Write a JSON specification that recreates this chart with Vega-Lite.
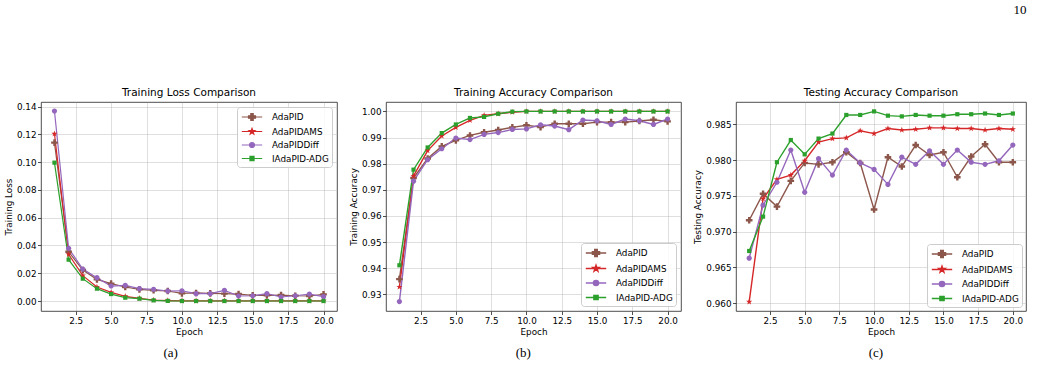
{
  "$schema": "https://vega.github.io/schema/vega-lite/v6.json",
  "background": "white",
  "padding": {"left": 4, "top": 4, "right": 5, "bottom": 4},
  "title": {"text": "10", "anchor": "end", "orient": "top", "font": "Liberation Serif", "fontSize": 13, "fontWeight": "normal", "offset": 70, "frame": "bounds", "color": "#000"},
  "datasets": {
    "loss": [
      {"epoch": 1, "AdaPID": 0.1141, "AdaPIDAMS": 0.1205, "AdaPIDDiff": 0.1369, "IAdaPID-ADG": 0.0997},
      {"epoch": 2, "AdaPID": 0.0355, "AdaPIDAMS": 0.0336, "AdaPIDDiff": 0.038, "IAdaPID-ADG": 0.0298},
      {"epoch": 3, "AdaPID": 0.0223, "AdaPIDAMS": 0.0183, "AdaPIDDiff": 0.023, "IAdaPID-ADG": 0.0161},
      {"epoch": 4, "AdaPID": 0.0156, "AdaPIDAMS": 0.0101, "AdaPIDDiff": 0.0168, "IAdaPID-ADG": 0.0089},
      {"epoch": 5, "AdaPID": 0.0125, "AdaPIDAMS": 0.0062, "AdaPIDDiff": 0.0108, "IAdaPID-ADG": 0.005},
      {"epoch": 6, "AdaPID": 0.0101, "AdaPIDAMS": 0.0034, "AdaPIDDiff": 0.0113, "IAdaPID-ADG": 0.0024},
      {"epoch": 7, "AdaPID": 0.0084, "AdaPIDAMS": 0.0019, "AdaPIDDiff": 0.0089, "IAdaPID-ADG": 0.0017},
      {"epoch": 8, "AdaPID": 0.0077, "AdaPIDAMS": 0.0007, "AdaPIDDiff": 0.0084, "IAdaPID-ADG": 0.0005},
      {"epoch": 9, "AdaPID": 0.0072, "AdaPIDAMS": 0.0003, "AdaPIDDiff": 0.0072, "IAdaPID-ADG": 0.0001},
      {"epoch": 10, "AdaPID": 0.0055, "AdaPIDAMS": 0.0001, "AdaPIDDiff": 0.0074, "IAdaPID-ADG": 0.0},
      {"epoch": 11, "AdaPID": 0.0058, "AdaPIDAMS": 0.0001, "AdaPIDDiff": 0.0053, "IAdaPID-ADG": 0.0},
      {"epoch": 12, "AdaPID": 0.0055, "AdaPIDAMS": 0.0001, "AdaPIDDiff": 0.0053, "IAdaPID-ADG": 0.0},
      {"epoch": 13, "AdaPID": 0.0053, "AdaPIDAMS": 0.0001, "AdaPIDDiff": 0.0077, "IAdaPID-ADG": 0.0},
      {"epoch": 14, "AdaPID": 0.005, "AdaPIDAMS": 0.0001, "AdaPIDDiff": 0.0036, "IAdaPID-ADG": 0.0},
      {"epoch": 15, "AdaPID": 0.0041, "AdaPIDAMS": 0.0001, "AdaPIDDiff": 0.0038, "IAdaPID-ADG": 0.0},
      {"epoch": 16, "AdaPID": 0.0041, "AdaPIDAMS": 0.0001, "AdaPIDDiff": 0.0053, "IAdaPID-ADG": 0.0},
      {"epoch": 17, "AdaPID": 0.0043, "AdaPIDAMS": 0.0001, "AdaPIDDiff": 0.0029, "IAdaPID-ADG": 0.0},
      {"epoch": 18, "AdaPID": 0.0038, "AdaPIDAMS": 0.0001, "AdaPIDDiff": 0.0038, "IAdaPID-ADG": 0.0},
      {"epoch": 19, "AdaPID": 0.0036, "AdaPIDAMS": 0.0001, "AdaPIDDiff": 0.005, "IAdaPID-ADG": 0.0},
      {"epoch": 20, "AdaPID": 0.0048, "AdaPIDAMS": 0.0001, "AdaPIDDiff": 0.0031, "IAdaPID-ADG": 0.0}
    ],
    "trainacc": [
      {"epoch": 1, "AdaPID": 0.9358, "AdaPIDAMS": 0.9328, "AdaPIDDiff": 0.9272, "IAdaPID-ADG": 0.9411},
      {"epoch": 2, "AdaPID": 0.9745, "AdaPIDAMS": 0.9753, "AdaPIDDiff": 0.9733, "IAdaPID-ADG": 0.9777},
      {"epoch": 3, "AdaPID": 0.982, "AdaPIDAMS": 0.985, "AdaPIDDiff": 0.9815, "IAdaPID-ADG": 0.9862},
      {"epoch": 4, "AdaPID": 0.9866, "AdaPIDAMS": 0.9906, "AdaPIDDiff": 0.9857, "IAdaPID-ADG": 0.9917},
      {"epoch": 5, "AdaPID": 0.9889, "AdaPIDAMS": 0.9939, "AdaPIDDiff": 0.9898, "IAdaPID-ADG": 0.995},
      {"epoch": 6, "AdaPID": 0.9908, "AdaPIDAMS": 0.9966, "AdaPIDDiff": 0.9892, "IAdaPID-ADG": 0.9975},
      {"epoch": 7, "AdaPID": 0.992, "AdaPIDAMS": 0.9985, "AdaPIDDiff": 0.9912, "IAdaPID-ADG": 0.9979},
      {"epoch": 8, "AdaPID": 0.9929, "AdaPIDAMS": 0.9991, "AdaPIDDiff": 0.9919, "IAdaPID-ADG": 0.9991},
      {"epoch": 9, "AdaPID": 0.9939, "AdaPIDAMS": 0.9997, "AdaPIDDiff": 0.9931, "IAdaPID-ADG": 0.9999},
      {"epoch": 10, "AdaPID": 0.9947, "AdaPIDAMS": 1.0, "AdaPIDDiff": 0.9933, "IAdaPID-ADG": 1.0},
      {"epoch": 11, "AdaPID": 0.994, "AdaPIDAMS": 1.0, "AdaPIDDiff": 0.9949, "IAdaPID-ADG": 1.0},
      {"epoch": 12, "AdaPID": 0.9953, "AdaPIDAMS": 1.0, "AdaPIDDiff": 0.9944, "IAdaPID-ADG": 1.0},
      {"epoch": 13, "AdaPID": 0.9953, "AdaPIDAMS": 1.0, "AdaPIDDiff": 0.993, "IAdaPID-ADG": 1.0},
      {"epoch": 14, "AdaPID": 0.9953, "AdaPIDAMS": 1.0, "AdaPIDDiff": 0.9967, "IAdaPID-ADG": 1.0},
      {"epoch": 15, "AdaPID": 0.9959, "AdaPIDAMS": 1.0, "AdaPIDDiff": 0.9964, "IAdaPID-ADG": 1.0},
      {"epoch": 16, "AdaPID": 0.9959, "AdaPIDAMS": 1.0, "AdaPIDDiff": 0.995, "IAdaPID-ADG": 1.0},
      {"epoch": 17, "AdaPID": 0.9959, "AdaPIDAMS": 1.0, "AdaPIDDiff": 0.9971, "IAdaPID-ADG": 1.0},
      {"epoch": 18, "AdaPID": 0.9963, "AdaPIDAMS": 1.0, "AdaPIDDiff": 0.9964, "IAdaPID-ADG": 1.0},
      {"epoch": 19, "AdaPID": 0.9968, "AdaPIDAMS": 1.0, "AdaPIDDiff": 0.995, "IAdaPID-ADG": 1.0},
      {"epoch": 20, "AdaPID": 0.9962, "AdaPIDAMS": 1.0, "AdaPIDDiff": 0.9971, "IAdaPID-ADG": 1.0}
    ],
    "testacc": [
      {"epoch": 1, "AdaPID": 0.9716, "AdaPIDAMS": 0.9602, "AdaPIDDiff": 0.9663, "IAdaPID-ADG": 0.9673},
      {"epoch": 2, "AdaPID": 0.9753, "AdaPIDAMS": 0.9746, "AdaPIDDiff": 0.9737, "IAdaPID-ADG": 0.9721},
      {"epoch": 3, "AdaPID": 0.9735, "AdaPIDAMS": 0.9773, "AdaPIDDiff": 0.9769, "IAdaPID-ADG": 0.9797},
      {"epoch": 4, "AdaPID": 0.9771, "AdaPIDAMS": 0.9779, "AdaPIDDiff": 0.9814, "IAdaPID-ADG": 0.9828},
      {"epoch": 5, "AdaPID": 0.9796, "AdaPIDAMS": 0.9799, "AdaPIDDiff": 0.9755, "IAdaPID-ADG": 0.9808},
      {"epoch": 6, "AdaPID": 0.9794, "AdaPIDAMS": 0.9825, "AdaPIDDiff": 0.9802, "IAdaPID-ADG": 0.983},
      {"epoch": 7, "AdaPID": 0.9797, "AdaPIDAMS": 0.983, "AdaPIDDiff": 0.9779, "IAdaPID-ADG": 0.9837},
      {"epoch": 8, "AdaPID": 0.9811, "AdaPIDAMS": 0.9831, "AdaPIDDiff": 0.9814, "IAdaPID-ADG": 0.9863},
      {"epoch": 9, "AdaPID": 0.9796, "AdaPIDAMS": 0.9841, "AdaPIDDiff": 0.9796, "IAdaPID-ADG": 0.9863},
      {"epoch": 10, "AdaPID": 0.9731, "AdaPIDAMS": 0.9837, "AdaPIDDiff": 0.9787, "IAdaPID-ADG": 0.9868},
      {"epoch": 11, "AdaPID": 0.9804, "AdaPIDAMS": 0.9844, "AdaPIDDiff": 0.9766, "IAdaPID-ADG": 0.9862},
      {"epoch": 12, "AdaPID": 0.9791, "AdaPIDAMS": 0.9842, "AdaPIDDiff": 0.9804, "IAdaPID-ADG": 0.9861},
      {"epoch": 13, "AdaPID": 0.9821, "AdaPIDAMS": 0.9843, "AdaPIDDiff": 0.9794, "IAdaPID-ADG": 0.9863},
      {"epoch": 14, "AdaPID": 0.9807, "AdaPIDAMS": 0.9845, "AdaPIDDiff": 0.9813, "IAdaPID-ADG": 0.9862},
      {"epoch": 15, "AdaPID": 0.9811, "AdaPIDAMS": 0.9845, "AdaPIDDiff": 0.9794, "IAdaPID-ADG": 0.9862},
      {"epoch": 16, "AdaPID": 0.9776, "AdaPIDAMS": 0.9844, "AdaPIDDiff": 0.9814, "IAdaPID-ADG": 0.9864},
      {"epoch": 17, "AdaPID": 0.9805, "AdaPIDAMS": 0.9844, "AdaPIDDiff": 0.9797, "IAdaPID-ADG": 0.9864},
      {"epoch": 18, "AdaPID": 0.9822, "AdaPIDAMS": 0.9842, "AdaPIDDiff": 0.9794, "IAdaPID-ADG": 0.9865},
      {"epoch": 19, "AdaPID": 0.9797, "AdaPIDAMS": 0.9844, "AdaPIDDiff": 0.9799, "IAdaPID-ADG": 0.9863},
      {"epoch": 20, "AdaPID": 0.9797, "AdaPIDAMS": 0.9843, "AdaPIDDiff": 0.9821, "IAdaPID-ADG": 0.9865}
    ]
  },
  "hconcat": [
    {
      "title": {"text": "(a)", "orient": "bottom", "anchor": "middle", "frame": "bounds", "font": "Liberation Serif", "fontSize": 13, "fontWeight": "normal", "offset": 10, "color": "#000"},
      "resolve": {"scale": {"color": "independent"}, "legend": {"color": "independent"}},
      "vconcat": [
        {
          "title": {"text": "Training Loss Comparison"},
          "width": 296,
          "height": 209,
          "data": {"name": "loss"},
          "transform": [{"fold": ["AdaPID", "AdaPIDAMS", "AdaPIDDiff", "IAdaPID-ADG"], "as": ["optimizer", "value"]}],
          "encoding": {
            "x": {"field": "epoch", "type": "quantitative", "scale": {"domain": [0.05, 20.95], "nice": false, "zero": false}, "axis": {"values": [2.5, 5, 7.5, 10, 12.5, 15, 17.5, 20], "format": ".1f", "title": "Epoch"}},
            "y": {"field": "value", "type": "quantitative", "scale": {"domain": [-0.0072, 0.1434], "nice": false, "zero": false}, "axis": {"values": [0, 0.02, 0.04, 0.06, 0.08, 0.1, 0.12, 0.14], "format": ".2f", "title": "Training Loss"}},
            "color": {"field": "optimizer", "type": "nominal", "scale": {"domain": ["AdaPID", "AdaPIDAMS", "AdaPIDDiff", "IAdaPID-ADG"], "range": ["#8c564b", "#d62728", "#9467bd", "#2ca02c"]},
              "legend": {"title": null, "orient": "top-right", "offset": 5,
                "encode": {"symbols": {"update": {
                  "shape": {"signal": "datum.value === 'AdaPID' ? 'M-1.7,0H1.7M-0.2,-0.58H0.2V-0.2H0.58V0.2H0.2V0.58H-0.2V0.2H-0.58V-0.2H-0.2Z' : datum.value === 'AdaPIDAMS' ? 'M-1.7,0H1.7M0,-0.5L0.118,-0.162L0.475,-0.155L0.19,0.062L0.294,0.405L0,0.2L-0.294,0.405L-0.19,0.062L-0.475,-0.155L-0.118,-0.162Z' : datum.value === 'AdaPIDDiff' ? 'M-1.7,0H1.7M-0.42,0A0.42,0.42,0,1,0,0.42,0A0.42,0.42,0,1,0,-0.42,0Z' : 'M-1.7,0H1.7M-0.34,-0.34H0.34V0.34H-0.34Z'"},
                  "fill": {"signal": "datum.value === 'AdaPID' ? '#8c564b' : datum.value === 'AdaPIDAMS' ? '#d62728' : datum.value === 'AdaPIDDiff' ? '#9467bd' : '#2ca02c'"},
                  "fillOpacity": {"value": 1},
                  "stroke": {"signal": "datum.value === 'AdaPID' ? '#8c564b' : datum.value === 'AdaPIDAMS' ? '#d62728' : datum.value === 'AdaPIDDiff' ? '#9467bd' : '#2ca02c'"},
                  "strokeWidth": {"value": 1.2},
                  "opacity": {"value": 1}
                }}}
              }
            }
          },
          "layer": [
            {"mark": {"type": "line", "strokeWidth": 1.2}},
            {"transform": [{"filter": "datum.optimizer === 'AdaPID'"}], "mark": {"type": "point", "filled": true, "opacity": 1, "size": 100, "shape": "M-0.24,-0.66H0.24V-0.24H0.66V0.24H0.24V0.66H-0.24V0.24H-0.66V-0.24H-0.24Z"}},
            {"transform": [{"filter": "datum.optimizer === 'AdaPIDAMS'"}], "mark": {"type": "point", "filled": true, "opacity": 1, "size": 100, "shape": "M0,-0.65L0.153,-0.211L0.618,-0.201L0.247,0.081L0.382,0.526L0,0.26L-0.382,0.526L-0.247,0.081L-0.618,-0.201L-0.153,-0.211Z"}},
            {"transform": [{"filter": "datum.optimizer === 'AdaPIDDiff'"}], "mark": {"type": "point", "filled": true, "opacity": 1, "size": 100, "shape": "M-0.52,0A0.52,0.52,0,1,0,0.52,0A0.52,0.52,0,1,0,-0.52,0Z"}},
            {"transform": [{"filter": "datum.optimizer === 'IAdaPID-ADG'"}], "mark": {"type": "point", "filled": true, "opacity": 1, "size": 100, "shape": "M-0.42,-0.42H0.42V0.42H-0.42Z"}}
          ]
        }
      ]
    },
    {
      "title": {"text": "(b)", "orient": "bottom", "anchor": "middle", "frame": "bounds", "font": "Liberation Serif", "fontSize": 13, "fontWeight": "normal", "offset": 10, "dx": 8, "color": "#000"},
      "resolve": {"scale": {"color": "independent"}, "legend": {"color": "independent"}},
      "vconcat": [
        {
          "title": {"text": "Training Accuracy Comparison"},
          "width": 295,
          "height": 209,
          "data": {"name": "trainacc"},
          "transform": [{"fold": ["AdaPID", "AdaPIDAMS", "AdaPIDDiff", "IAdaPID-ADG"], "as": ["optimizer", "value"]}],
          "encoding": {
            "x": {"field": "epoch", "type": "quantitative", "scale": {"domain": [0.05, 20.95], "nice": false, "zero": false}, "axis": {"values": [2.5, 5, 7.5, 10, 12.5, 15, 17.5, 20], "format": ".1f", "title": "Epoch"}},
            "y": {"field": "value", "type": "quantitative", "scale": {"domain": [0.9236, 1.0036], "nice": false, "zero": false}, "axis": {"values": [0.93, 0.94, 0.95, 0.96, 0.97, 0.98, 0.99, 1.0], "format": ".2f", "title": "Training Accuracy"}},
            "color": {"field": "optimizer", "type": "nominal", "scale": {"domain": ["AdaPID", "AdaPIDAMS", "AdaPIDDiff", "IAdaPID-ADG"], "range": ["#8c564b", "#d62728", "#9467bd", "#2ca02c"]},
              "legend": {"title": null, "orient": "bottom-right", "offset": 5,
                "encode": {"symbols": {"update": {
                  "shape": {"signal": "datum.value === 'AdaPID' ? 'M-1.7,0H1.7M-0.2,-0.58H0.2V-0.2H0.58V0.2H0.2V0.58H-0.2V0.2H-0.58V-0.2H-0.2Z' : datum.value === 'AdaPIDAMS' ? 'M-1.7,0H1.7M0,-0.5L0.118,-0.162L0.475,-0.155L0.19,0.062L0.294,0.405L0,0.2L-0.294,0.405L-0.19,0.062L-0.475,-0.155L-0.118,-0.162Z' : datum.value === 'AdaPIDDiff' ? 'M-1.7,0H1.7M-0.42,0A0.42,0.42,0,1,0,0.42,0A0.42,0.42,0,1,0,-0.42,0Z' : 'M-1.7,0H1.7M-0.34,-0.34H0.34V0.34H-0.34Z'"},
                  "fill": {"signal": "datum.value === 'AdaPID' ? '#8c564b' : datum.value === 'AdaPIDAMS' ? '#d62728' : datum.value === 'AdaPIDDiff' ? '#9467bd' : '#2ca02c'"},
                  "fillOpacity": {"value": 1},
                  "stroke": {"signal": "datum.value === 'AdaPID' ? '#a07a72' : datum.value === 'AdaPIDAMS' ? '#e06a6a' : datum.value === 'AdaPIDDiff' ? '#b198d2' : '#6cc06c'"},
                  "strokeWidth": {"value": 1.6},
                  "opacity": {"value": 1}
                }}}
              }
            }
          },
          "layer": [
            {"mark": {"type": "line", "strokeWidth": 1.4}},
            {"transform": [{"filter": "datum.optimizer === 'AdaPID'"}], "mark": {"type": "point", "filled": true, "opacity": 1, "size": 100, "shape": "M-0.24,-0.66H0.24V-0.24H0.66V0.24H0.24V0.66H-0.24V0.24H-0.66V-0.24H-0.24Z"}},
            {"transform": [{"filter": "datum.optimizer === 'AdaPIDAMS'"}], "mark": {"type": "point", "filled": true, "opacity": 1, "size": 100, "shape": "M0,-0.65L0.153,-0.211L0.618,-0.201L0.247,0.081L0.382,0.526L0,0.26L-0.382,0.526L-0.247,0.081L-0.618,-0.201L-0.153,-0.211Z"}},
            {"transform": [{"filter": "datum.optimizer === 'AdaPIDDiff'"}], "mark": {"type": "point", "filled": true, "opacity": 1, "size": 100, "shape": "M-0.52,0A0.52,0.52,0,1,0,0.52,0A0.52,0.52,0,1,0,-0.52,0Z"}},
            {"transform": [{"filter": "datum.optimizer === 'IAdaPID-ADG'"}], "mark": {"type": "point", "filled": true, "opacity": 1, "size": 100, "shape": "M-0.42,-0.42H0.42V0.42H-0.42Z"}}
          ]
        }
      ]
    },
    {
      "title": {"text": "(c)", "orient": "bottom", "anchor": "middle", "frame": "bounds", "font": "Liberation Serif", "fontSize": 13, "fontWeight": "normal", "offset": 10, "dx": 16, "color": "#000"},
      "resolve": {"scale": {"color": "independent"}, "legend": {"color": "independent"}},
      "vconcat": [
        {
          "title": {"text": "Testing Accuracy Comparison"},
          "width": 290,
          "height": 209,
          "data": {"name": "testacc"},
          "transform": [{"fold": ["AdaPID", "AdaPIDAMS", "AdaPIDDiff", "IAdaPID-ADG"], "as": ["optimizer", "value"]}],
          "encoding": {
            "x": {"field": "epoch", "type": "quantitative", "scale": {"domain": [0.05, 20.95], "nice": false, "zero": false}, "axis": {"values": [2.5, 5, 7.5, 10, 12.5, 15, 17.5, 20], "format": ".1f", "title": "Epoch"}},
            "y": {"field": "value", "type": "quantitative", "scale": {"domain": [0.95892, 0.98811], "nice": false, "zero": false}, "axis": {"values": [0.96, 0.965, 0.97, 0.975, 0.98, 0.985], "format": ".3f", "title": "Testing Accuracy"}},
            "color": {"field": "optimizer", "type": "nominal", "scale": {"domain": ["AdaPID", "AdaPIDAMS", "AdaPIDDiff", "IAdaPID-ADG"], "range": ["#8c564b", "#d62728", "#9467bd", "#2ca02c"]},
              "legend": {"title": null, "orient": "bottom-right", "offset": 4,
                "encode": {"symbols": {"update": {
                  "shape": {"signal": "datum.value === 'AdaPID' ? 'M-1.7,0H1.7M-0.2,-0.58H0.2V-0.2H0.58V0.2H0.2V0.58H-0.2V0.2H-0.58V-0.2H-0.2Z' : datum.value === 'AdaPIDAMS' ? 'M-1.7,0H1.7M0,-0.5L0.118,-0.162L0.475,-0.155L0.19,0.062L0.294,0.405L0,0.2L-0.294,0.405L-0.19,0.062L-0.475,-0.155L-0.118,-0.162Z' : datum.value === 'AdaPIDDiff' ? 'M-1.7,0H1.7M-0.42,0A0.42,0.42,0,1,0,0.42,0A0.42,0.42,0,1,0,-0.42,0Z' : 'M-1.7,0H1.7M-0.34,-0.34H0.34V0.34H-0.34Z'"},
                  "fill": {"signal": "datum.value === 'AdaPID' ? '#8c564b' : datum.value === 'AdaPIDAMS' ? '#d62728' : datum.value === 'AdaPIDDiff' ? '#9467bd' : '#2ca02c'"},
                  "fillOpacity": {"value": 1},
                  "stroke": {"signal": "datum.value === 'AdaPID' ? '#a07a72' : datum.value === 'AdaPIDAMS' ? '#e06a6a' : datum.value === 'AdaPIDDiff' ? '#b198d2' : '#6cc06c'"},
                  "strokeWidth": {"value": 1.6},
                  "opacity": {"value": 1}
                }}}
              }
            }
          },
          "layer": [
            {"mark": {"type": "line", "strokeWidth": 1.4}},
            {"transform": [{"filter": "datum.optimizer === 'AdaPID'"}], "mark": {"type": "point", "filled": true, "opacity": 1, "size": 100, "shape": "M-0.24,-0.66H0.24V-0.24H0.66V0.24H0.24V0.66H-0.24V0.24H-0.66V-0.24H-0.24Z"}},
            {"transform": [{"filter": "datum.optimizer === 'AdaPIDAMS'"}], "mark": {"type": "point", "filled": true, "opacity": 1, "size": 100, "shape": "M0,-0.65L0.153,-0.211L0.618,-0.201L0.247,0.081L0.382,0.526L0,0.26L-0.382,0.526L-0.247,0.081L-0.618,-0.201L-0.153,-0.211Z"}},
            {"transform": [{"filter": "datum.optimizer === 'AdaPIDDiff'"}], "mark": {"type": "point", "filled": true, "opacity": 1, "size": 100, "shape": "M-0.52,0A0.52,0.52,0,1,0,0.52,0A0.52,0.52,0,1,0,-0.52,0Z"}},
            {"transform": [{"filter": "datum.optimizer === 'IAdaPID-ADG'"}], "mark": {"type": "point", "filled": true, "opacity": 1, "size": 100, "shape": "M-0.42,-0.42H0.42V0.42H-0.42Z"}}
          ]
        }
      ]
    }
  ],
  "spacing": 11,
  "resolve": {"scale": {"color": "independent", "x": "independent", "y": "independent"}, "legend": {"color": "independent"}},
  "config": {
    "font": "DejaVu Sans",
    "view": {"stroke": "#222", "strokeWidth": 0.8},
    "axis": {"domain": false, "grid": true, "gridColor": "#b0b0b0", "gridOpacity": 0.5, "gridWidth": 0.8, "tickColor": "#222", "tickSize": 3.5, "tickWidth": 0.8, "labelFont": "DejaVu Sans", "labelFontSize": 8.8, "labelColor": "#000", "labelPadding": 1.5, "labelFlush": false, "labelOverlap": false, "titleFont": "DejaVu Sans", "titleFontSize": 8.8, "titleFontWeight": "normal", "titleColor": "#000", "titlePadding": 3},
    "legend": {"labelFont": "DejaVu Sans", "labelFontSize": 8.8, "labelColor": "#000", "symbolSize": 144, "symbolOffset": 5, "labelOffset": 13, "rowPadding": 1.5, "padding": 3, "fillColor": "rgba(255,255,255,0.8)", "strokeColor": "#cccccc", "cornerRadius": 3, "labelLimit": 0},
    "title": {"font": "DejaVu Sans", "fontSize": 10.5, "fontWeight": "normal", "color": "#000", "offset": 4}
  }
}
